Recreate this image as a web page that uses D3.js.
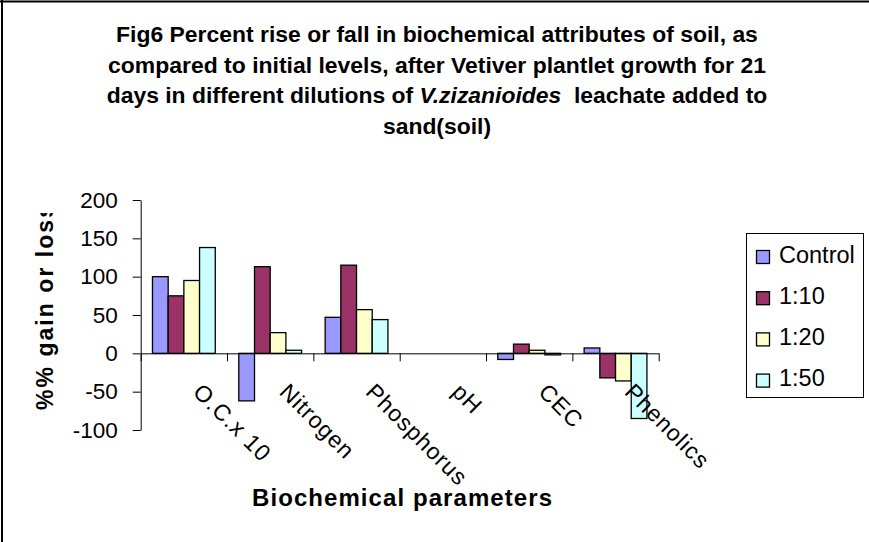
<!DOCTYPE html>
<html>
<head>
<meta charset="utf-8">
<script src="https://cdn.jsdelivr.net/npm/d3@7"></script>
<style>
  body { margin: 0; background: #fff; }
  svg { display: block; font-family: Arial, "Liberation Sans", sans-serif; }
</style>
</head>
<body>
<svg width="869" height="542"></svg>
<script>
var categories = ["O.C.x 10", "Nitrogen", "Phosphorus", "pH", "CEC", "Phenolics"];
var seriesNames = ["Control", "1:10", "1:20", "1:50"];
var control = [100, -62, 47, 0, -8, 7];
var d110 = [75, 113, 115, 0, 12, -32];
var d120 = [95, 27, 57, 0, 4, -36];
var d150 = [138, 4, 44, 0, -2, -85];
var yTicks = [-100, -50, 0, 50, 100, 150, 200];
var colors = ["#9999ff", "#993366", "#ffffcc", "#ccffff"];

var values = [control, d110, d120, d150];

var svg = d3.select("svg");

// frame lines (left and top only)
svg.append("line").attr("x1", 2).attr("x2", 2).attr("y1", 0).attr("y2", 542)
  .attr("stroke", "#000").attr("stroke-width", 2);
svg.append("line").attr("x1", 0).attr("x2", 869).attr("y1", 1.5).attr("y2", 1.5)
  .attr("stroke", "#000").attr("stroke-width", 2);

// title
var titleLines = [
  [{t: "Fig6 Percent rise or fall in biochemical attributes of soil, as"}],
  [{t: "compared to initial levels, after Vetiver plantlet growth for 21"}],
  [{t: "days in different dilutions of "}, {t: "V.zizanioides", i: true}, {t: "  leachate added to"}],
  [{t: "sand(soil)"}]
];
var titleWidths = [642, 658, 661, null];
var titleY = [42, 72.5, 103, 134];
var titleScale = 1;
titleLines.forEach(function (parts, k) {
  var t = svg.append("text")
    .attr("font-size", 22.5).attr("font-weight", "bold")
    .attr("text-anchor", "middle")
    .attr("xml:space", "preserve")
    .style("white-space", "pre");
  parts.forEach(function (p) {
    t.append("tspan").text(p.t).attr("font-style", p.i ? "italic" : null);
  });
  var w = t.node().getComputedTextLength();
  var s = titleWidths[k] ? titleWidths[k] / w : titleScale;
  if (k === 0) titleScale = s;
  t.attr("transform", "translate(437," + titleY[k] + ") scale(" + s + ",1)");
});

// scales
var x0 = d3.scaleBand().domain(categories).range([140.7, 658.7]).padding(0);
var x1 = d3.scaleBand().domain(seriesNames).range([0, x0.bandwidth()])
  .paddingInner(0).paddingOuter(0.75);
var y = d3.scaleLinear().domain([-100, 200]).range([430, 200]);

// y axis
var yAxis = svg.append("g")
  .attr("transform", "translate(140.7,0)")
  .call(d3.axisLeft(y).tickValues(yTicks).tickFormat(function (d) { return String(d); })
    .tickSize(8).tickPadding(15).tickSizeOuter(0));
yAxis.attr("font-family", null);
yAxis.selectAll("text").attr("font-size", 22.5).attr("fill", "#000");
yAxis.select(".domain").attr("stroke", "#000");
yAxis.selectAll(".tick line").attr("stroke", "#000");

// bars
var groups = svg.selectAll(".grp")
  .data(categories)
  .enter().append("g")
  .attr("class", "grp")
  .attr("transform", function (d) { return "translate(" + x0(d) + ",0)"; });

groups.selectAll("rect")
  .data(function (d, i) {
    return seriesNames.map(function (s, j) { return {s: s, v: values[j][i], c: colors[j]}; });
  })
  .enter().append("rect")
  .attr("x", function (d) { return x1(d.s); })
  .attr("width", x1.bandwidth())
  .attr("y", function (d) { return y(Math.max(0, d.v)); })
  .attr("height", function (d) { return Math.abs(y(d.v) - y(0)); })
  .attr("fill", function (d) { return d.c; })
  .attr("stroke", "#000")
  .attr("stroke-width", 1.3);

// x axis (line at zero with category boundary ticks)
var xb = d3.scaleLinear().domain([0, categories.length]).range([140.7, 658.7]);
var xAxis = svg.append("g")
  .attr("transform", "translate(0," + y(0) + ")")
  .call(d3.axisBottom(xb).ticks(categories.length).tickFormat("").tickSize(8).tickSizeOuter(0));
xAxis.select(".domain").attr("stroke", "#000");
xAxis.selectAll(".tick line").attr("stroke", "#000");

// rotated category labels
svg.selectAll(".xlab")
  .data(categories)
  .enter().append("text")
  .attr("class", "xlab")
  .attr("font-size", 23)
  .attr("letter-spacing", 1)
  .attr("transform", function (d) {
    return "translate(" + (x0(d) + x0.bandwidth() / 2 + 8) + "," + (y(0) + 40) + ") rotate(45)";
  })
  .text(function (d) { return d; });

// axis titles
svg.append("text")
  .attr("x", 402).attr("y", 505.7)
  .attr("text-anchor", "middle")
  .attr("font-size", 24).attr("font-weight", "bold")
  .attr("textLength", 300).attr("lengthAdjust", "spacing")
  .text("Biochemical parameters");

svg.append("clipPath").attr("id", "yclip")
  .append("rect").attr("x", 0).attr("y", 213).attr("width", 120).attr("height", 300);
svg.append("g").attr("clip-path", "url(#yclip)")
  .append("text")
  .attr("transform", "translate(53,410) rotate(-90)")
  .attr("font-size", 23).attr("font-weight", "bold")
  .attr("textLength", 205).attr("lengthAdjust", "spacing")
  .text("%% gain or loss");

// legend
var legend = svg.append("g");
legend.append("rect")
  .attr("x", 746.5).attr("y", 233.5).attr("width", 117).attr("height", 164)
  .attr("fill", "#fff").attr("stroke", "#000").attr("stroke-width", 1);
var li = legend.selectAll(".li")
  .data(seriesNames)
  .enter().append("g")
  .attr("transform", function (d, i) { return "translate(0," + (i * 41.2) + ")"; });
li.append("rect")
  .attr("x", 756.5).attr("y", 250.5).attr("width", 13).attr("height", 13)
  .attr("fill", function (d, i) { return colors[i]; })
  .attr("stroke", "#000").attr("stroke-width", 1.3);
li.append("text")
  .attr("x", 779).attr("y", 262.5)
  .attr("font-size", 23.5)
  .text(function (d) { return d; });
</script>
</body>
</html>
